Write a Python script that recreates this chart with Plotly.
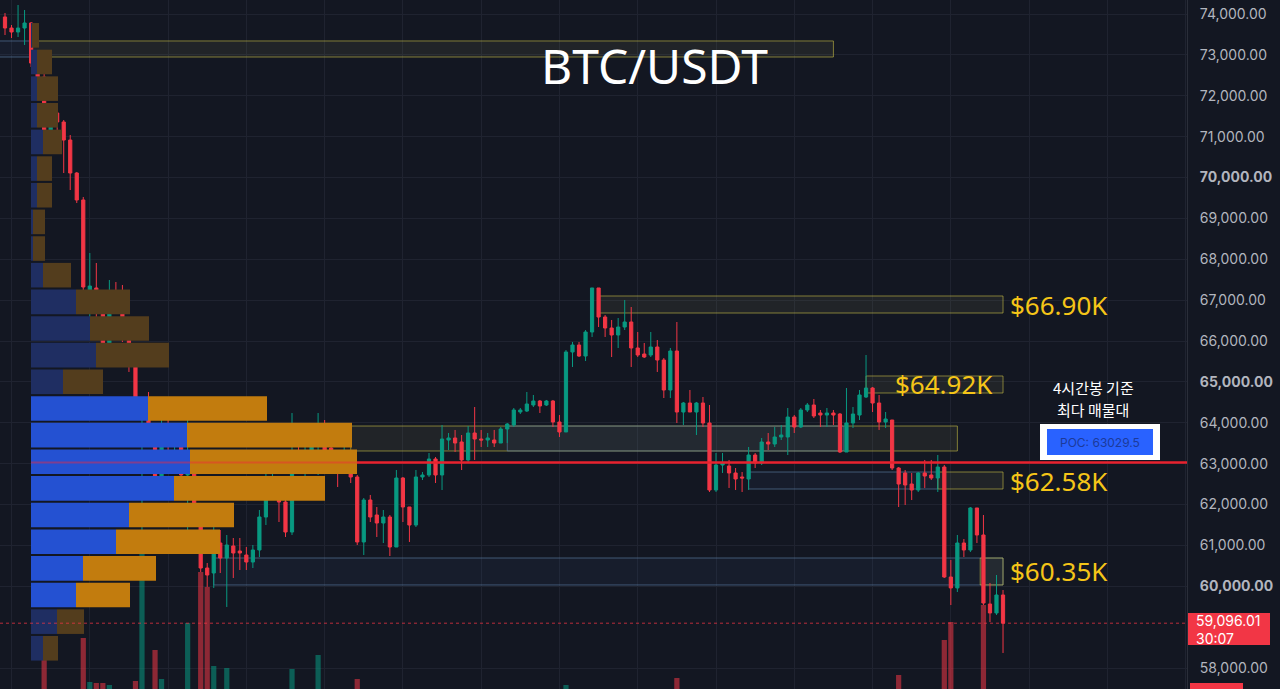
import plotly.graph_objects as go

# ---------------- data ----------------
opens = [73927, 73657, 73560, 73657, 73780, 72801, 72459, 71089, 71578, 71358,
         70917, 70110, 69450, 67199, 67297, 66758, 65853, 67199, 67052, 66073,
         65462, 64140, 64361, 63578, 62526, 63896, 63627, 63871, 62722, 63089,
         61988, 60446, 60324, 61058, 60691, 60985, 60862, 60764, 60593, 60887,
         61694, 62404, 62599, 62061, 61327, 63284, 63138, 63284, 63504, 63774,
         63382, 63089, 62844, 63162, 62673, 61083, 62110, 61743, 61547, 61694,
         60960, 62648, 61939, 61498, 62673, 62722, 63113, 62722, 63578, 63627,
         63529, 63089, 63749, 63602, 63578, 63578, 63504, 63847, 63945, 64263,
         64287, 64434, 64532, 64434, 64532, 64018, 63774, 65731, 65902, 65633,
         66220, 67297, 66587, 66318, 66147, 66342, 66465, 65829, 65682, 65657,
         65853, 65535, 64801, 65755, 64263, 64483, 64263, 64483, 63994, 62355,
         62966, 62942, 62771, 62673, 62624, 63211, 63015, 63529, 63480, 63651,
         63651, 64140, 63896, 64312, 64434, 64238, 64189, 64238, 64214, 63284,
         63994, 64189, 64630, 64850, 64483, 64018, 64067, 62893, 62771, 62501,
         62355, 62771, 62722, 62648, 62917, 60226, 59958, 61058, 60887, 61915,
         61254, 59566, 59346, 59786]
highs = [74024, 73731, 74220, 74098, 73804, 72997, 72581, 71823, 71700, 71407,
         71040, 70135, 69523, 68153, 67908, 67199, 67492, 67443, 67370, 66342,
         65853, 64508, 64752, 63651, 64483, 64140, 63994, 63896, 64434, 63260,
         62037, 60569, 61988, 61376, 61254, 61180, 61180, 60960, 61009, 61865,
         62917, 62917, 62673, 62159, 64238, 63896, 63529, 63871, 64238, 64067,
         63774, 63162, 63529, 63211, 62722, 62159, 62233, 61939, 61865, 61743,
         62844, 62673, 61939, 62844, 62795, 63260, 63162, 63945, 63749, 63823,
         63700, 63920, 64385, 63823, 63749, 63823, 63896, 63994, 64361, 64361,
         64752, 64679, 64557, 64557, 64557, 64189, 65780, 65976, 65976, 66269,
         67297, 67297, 66636, 66514, 66562, 67003, 66832, 66220, 65951, 66220,
         66024, 65584, 65829, 66465, 64508, 64801, 64508, 64630, 64434, 63260,
         63260, 63089, 62893, 62795, 63407, 63260, 63627, 63749, 63896, 63945,
         64361, 64189, 64361, 64483, 64581, 64312, 64361, 64312, 64238, 64850,
         64385, 64801, 65657, 64875, 64679, 64263, 64067, 62917, 62844, 62771,
         62795, 63089, 63089, 63211, 62966, 60642, 61254, 61156, 61939, 61915,
         61743, 60080, 60275, 59908]
lows = [73486, 73413, 73437, 73242, 72703, 72263, 71064, 70673, 70844, 70110,
        69694, 69376, 67076, 66147, 66196, 65608, 65829, 66685, 65976, 65242,
        64116, 61376, 63529, 62233, 62428, 62966, 63089, 62526, 61180, 61939,
        60348, 59982, 59958, 60324, 59493, 60202, 60397, 60397, 60446, 60715,
        61498, 62233, 61571, 61205, 61254, 62771, 62428, 63040, 62722, 63284,
        63015, 62428, 62795, 62526, 61009, 60764, 61571, 61205, 61058, 60740,
        60960, 61571, 61083, 61449, 62599, 62673, 62526, 62355, 63333, 63284,
        62844, 63040, 63089, 63407, 63407, 63407, 63504, 63504, 63896, 64214,
        64263, 64385, 64238, 64410, 63896, 63651, 63774, 65364, 65608, 65510,
        66098, 66342, 66098, 65608, 65829, 66269, 65364, 65608, 65584, 65608,
        65242, 64605, 64605, 63994, 63945, 64263, 63700, 63896, 62306, 62306,
        62771, 62404, 62355, 62306, 62355, 62893, 62966, 63333, 63407, 63578,
        63211, 63749, 63871, 64263, 64116, 63896, 63896, 63945, 63260, 63284,
        63871, 64067, 64605, 64263, 63823, 63871, 62844, 61939, 61988, 62110,
        62306, 62404, 62599, 62306, 60202, 59541, 59859, 60715, 60838, 61058,
        59541, 59125, 59297, 58367]
closes = [73657, 73560, 73657, 73780, 72801, 72459, 71113, 71578, 71358, 70917,
          70110, 69450, 67321, 67345, 66758, 65853, 67199, 67076, 66073, 65462,
          64140, 64361, 63578, 62526, 63896, 63627, 63896, 62722, 63089, 61988,
          60446, 60275, 61058, 60691, 61009, 60813, 60813, 60593, 60887, 61694,
          62404, 62599, 62061, 61327, 63284, 63089, 63284, 63456, 63774, 63333,
          63089, 62844, 63187, 62673, 61083, 62110, 61694, 61547, 61694, 60960,
          62648, 61939, 61498, 62673, 62722, 63113, 62722, 63602, 63627, 63504,
          63089, 63749, 63602, 63578, 63627, 63504, 63847, 63969, 64312, 64312,
          64459, 64532, 64410, 64532, 64018, 63774, 65731, 65902, 65633, 66220,
          67297, 66587, 66318, 66147, 66342, 66465, 65829, 65657, 65608, 65853,
          65535, 64801, 65755, 64263, 64483, 64263, 64483, 63994, 62355, 62966,
          63015, 62771, 62624, 62648, 63211, 63015, 63529, 63480, 63651, 63700,
          64140, 63896, 64312, 64434, 64165, 64189, 64238, 64189, 63284, 63994,
          64214, 64679, 64850, 64483, 64018, 64092, 62893, 62501, 62477, 62355,
          62771, 62697, 62648, 62917, 60226, 59958, 61058, 60887, 61915, 61254,
          59590, 59346, 59786, 59096.01]
volumes = [30, 22, 26, 28, 36, 34, 79, 38, 30, 35,
           37, 33, 91, 47, 46, 46, 44, 32, 38, 36,
           48, 182, 39, 79, 50, 37, 30, 38, 106, 39,
           157, 142, 63, 38, 61, 33, 27, 25, 24, 36,
           38, 26, 31, 35, 60, 34, 30, 27, 74, 29,
           26, 28, 25, 30, 50, 38, 27, 22, 20, 31,
           37, 29, 26, 33, 18, 21, 19, 34, 17, 16,
           22, 24, 30, 15, 14, 16, 21, 19, 26, 13,
           24, 15, 14, 12, 23, 25, 44, 32, 22, 30,
           39, 36, 25, 27, 20, 29, 34, 21, 15, 18,
           26, 33, 30, 51, 23, 20, 24, 27, 39, 31,
           16, 19, 17, 14, 28, 15, 24, 13, 17, 12,
           27, 16, 19, 12, 18, 11, 12, 11, 29, 31,
           17, 22, 33, 21, 26, 15, 38, 54, 36, 22,
           24, 18, 16, 30, 89, 107, 39, 27, 37, 33,
           124, 38, 29, 37]

# volume profile (24 price rows, top -> bottom)
profile_top = 73804
profile_row = 652
profile_buy = [1, 6, 6, 6, 12, 6, 6, 2, 2, 12, 45, 59, 65, 32, 117, 156, 159, 143, 98, 85, 52, 45, 26, 12]
profile_sell = [7, 15, 21, 21, 19, 15, 15, 12, 12, 28, 54, 59, 73, 40, 119, 165, 167, 151, 105, 104, 73, 54, 27, 15]
value_area_rows = range(14, 22)
poc_price = 63029.5
last_price = 59096.01

# zones (candle index start/end, price low/high)
zone_x0 = [-1, 4, 91, 132, 53, 77, 32, 114, 143, 149.5]
zone_x1 = [4, 127, 153, 153, 146, 128.5, 153, 143, 153, 153]
zone_lo = [72948, 72948, 66685, 64728, 63309, 63309, 60031, 62379, 62379, 60031]
zone_hi = [73340, 73340, 67101, 65144, 63920, 63920, 60691, 62795, 62795, 60691]
zone_kind = ["blue", "yellow", "yellow", "yellow", "yellow", "blue", "blue", "blue", "yellow", "yellow"]

label_text = ["$66.90K", "$64.92K", "$62.58K", "$60.35K"]
label_x = [153.8, 136.1, 153.8, 153.8]
label_price = [66893, 64936, 62587, 60361]

note_lines = ["4시간봉 기준", "최다 매물대"]

tick_prices = [58000, 60000, 61000, 62000, 63000, 64000, 65000, 66000, 67000,
               68000, 69000, 70000, 71000, 72000, 73000, 74000]

# ---------------- layout constants ----------------
W, H = 1280, 689
PLOT_W = 1187
BG = "#131722"
UP = "#089981"
DOWN = "#f23645"
N = len(opens)
xs = list(range(N))


def pxx(p):
    return p / PLOT_W


def pxy(p):
    return 1 - p / H


fig = go.Figure()

# volume profile
row_centers = [profile_top - profile_row * (k + 0.5) for k in range(len(profile_buy))]
buy_cols = ["#2451d2" if k in value_area_rows else "#1f2e62" for k in range(len(profile_buy))]
sell_cols = ["#c27c0e" if k in value_area_rows else "#533d1d" for k in range(len(profile_buy))]
fig.add_trace(go.Bar(x=profile_buy, y=row_centers, orientation="h", width=profile_row - 50,
                     marker=dict(color=buy_cols, line=dict(width=0)), xaxis="x2", yaxis="y",
                     hoverinfo="skip", showlegend=False))
fig.add_trace(go.Bar(x=profile_sell, y=row_centers, base=profile_buy, orientation="h",
                     width=profile_row - 50,
                     marker=dict(color=sell_cols, line=dict(width=0)), xaxis="x2", yaxis="y",
                     hoverinfo="skip", showlegend=False))

# volume
vcols = ["rgba(8,153,129,0.55)" if c >= o else "rgba(242,54,69,0.55)" for o, c in zip(opens, closes)]
fig.add_trace(go.Bar(x=xs, y=volumes, marker=dict(color=vcols, line=dict(width=0)), width=0.8,
                     xaxis="x", yaxis="y2", hoverinfo="skip", showlegend=False))

# candles
fig.add_trace(go.Candlestick(
    x=xs, open=opens, high=highs, low=lows, close=closes,
    increasing=dict(line=dict(color=UP, width=1), fillcolor=UP),
    decreasing=dict(line=dict(color=DOWN, width=1), fillcolor=DOWN),
    whiskerwidth=0, showlegend=False, xaxis="x", yaxis="y"))

shapes = []
for x0, x1, lo, hi, kind in zip(zone_x0, zone_x1, zone_lo, zone_hi, zone_kind):
    if kind == "yellow":
        lc, fc = "rgba(200,190,70,0.6)", "rgba(160,160,100,0.10)"
    else:
        lc, fc = "rgba(95,130,170,0.6)", "rgba(60,90,140,0.10)"
    shapes.append(dict(type="rect", xref="x", yref="y", x0=x0, x1=x1, y0=lo, y1=hi,
                       line=dict(color=lc, width=1), fillcolor=fc, layer="between"))

# POC line
shapes.append(dict(type="line", xref="paper", yref="y", x0=pxx(31), x1=pxx(357), y0=poc_price, y1=poc_price,
                   line=dict(color="rgba(242,40,60,0.45)", width=2), layer="above"))
shapes.append(dict(type="line", xref="paper", yref="y", x0=pxx(357), x1=1, y0=poc_price, y1=poc_price,
                   line=dict(color="#e8222e", width=2.5), layer="above"))
# last price dotted line
shapes.append(dict(type="line", xref="paper", yref="y", x0=0, x1=1, y0=last_price, y1=last_price,
                   line=dict(color="rgba(242,54,69,0.75)", width=1, dash="dot"), layer="above"))
# POC box
shapes.append(dict(type="rect", xref="paper", yref="paper", x0=pxx(1040), x1=pxx(1160), y0=pxy(460), y1=pxy(424),
                   line=dict(width=0), fillcolor="white", layer="above"))
shapes.append(dict(type="rect", xref="paper", yref="paper", x0=pxx(1047), x1=pxx(1153), y0=pxy(455), y1=pxy(429),
                   line=dict(width=0), fillcolor="#2962ff", layer="above"))
# price tag on axis
shapes.append(dict(type="rect", xref="paper", yref="paper", x0=pxx(1188), x1=pxx(1270), y0=pxy(645), y1=pxy(613),
                   line=dict(width=0), fillcolor=DOWN, layer="above"))
shapes.append(dict(type="rect", xref="paper", yref="paper", x0=pxx(1190), x1=pxx(1243), y0=0, y1=pxy(683),
                   line=dict(width=0), fillcolor=DOWN, layer="above"))

annotations = [
    dict(text="BTC/USDT", xref="paper", yref="paper", x=pxx(654), y=pxy(66), showarrow=False,
         font=dict(family="Noto Sans", size=48, color="white"), xanchor="center", yanchor="middle"),
    dict(text="POC: " + str(poc_price), xref="paper", yref="paper", x=pxx(1100), y=pxy(442), showarrow=False,
         font=dict(family="Inter", size=12, color="#1c3a9a"), xanchor="center", yanchor="middle"),
    dict(text=f"{last_price:,.2f}<br>30:07", xref="paper", yref="paper", x=pxx(1194), y=pxy(629), showarrow=False,
         font=dict(family="Inter", size=14, color="white"), xanchor="left", yanchor="middle", align="left"),
]
for line, yy in zip(note_lines, [387, 409]):
    annotations.append(dict(text=line, xref="paper", yref="paper", x=pxx(1093), y=pxy(yy), showarrow=False,
                            font=dict(family="Noto Sans CJK KR", size=15, color="white"),
                            xanchor="center", yanchor="middle", borderpad=0))
for t, x, p in zip(label_text, label_x, label_price):
    annotations.append(dict(text=t, xref="x", yref="y", x=x, y=p, showarrow=False,
                            font=dict(family="Noto Sans", size=26, color="#f5c518"),
                            xanchor="left", yanchor="middle"))

ticktext = [f"<b>{v:,.2f}</b>" if v % 5000 == 0 else f"{v:,.2f}" for v in tick_prices]

px_per_candle = 6.523
x_min = -5 / px_per_candle
x_max = x_min + PLOT_W / px_per_candle
price_per_px = 24.465
y_top = 74000 + 14 * price_per_px
y_bot = y_top - H * price_per_px

fig.update_layout(
    width=W, height=H, margin=dict(l=0, r=W - PLOT_W, t=0, b=0),
    paper_bgcolor=BG, plot_bgcolor=BG, barmode="overlay", showlegend=False,
    xaxis=dict(range=[x_min, x_max], showticklabels=False, tick0=1, dtick=12,
               showgrid=True, gridcolor="#1f2330", gridwidth=1, zeroline=False,
               rangeslider=dict(visible=False), fixedrange=True),
    xaxis2=dict(overlaying="x", range=[-31, PLOT_W - 31], visible=False, anchor="y"),
    yaxis=dict(range=[y_bot, y_top], side="right", tickvals=tick_prices, ticktext=ticktext,
               tickfont=dict(family="Inter", size=14, color="#b2b5be"), ticks="",
               ticklabelstandoff=9, showgrid=True, gridcolor="#1f2330", zeroline=False,
               showline=True, linecolor="#2a2e39", linewidth=1),
    yaxis2=dict(overlaying="y", range=[40, 40 + H], visible=False),
    shapes=shapes, annotations=annotations,
)

fig.write_html("out.html")
